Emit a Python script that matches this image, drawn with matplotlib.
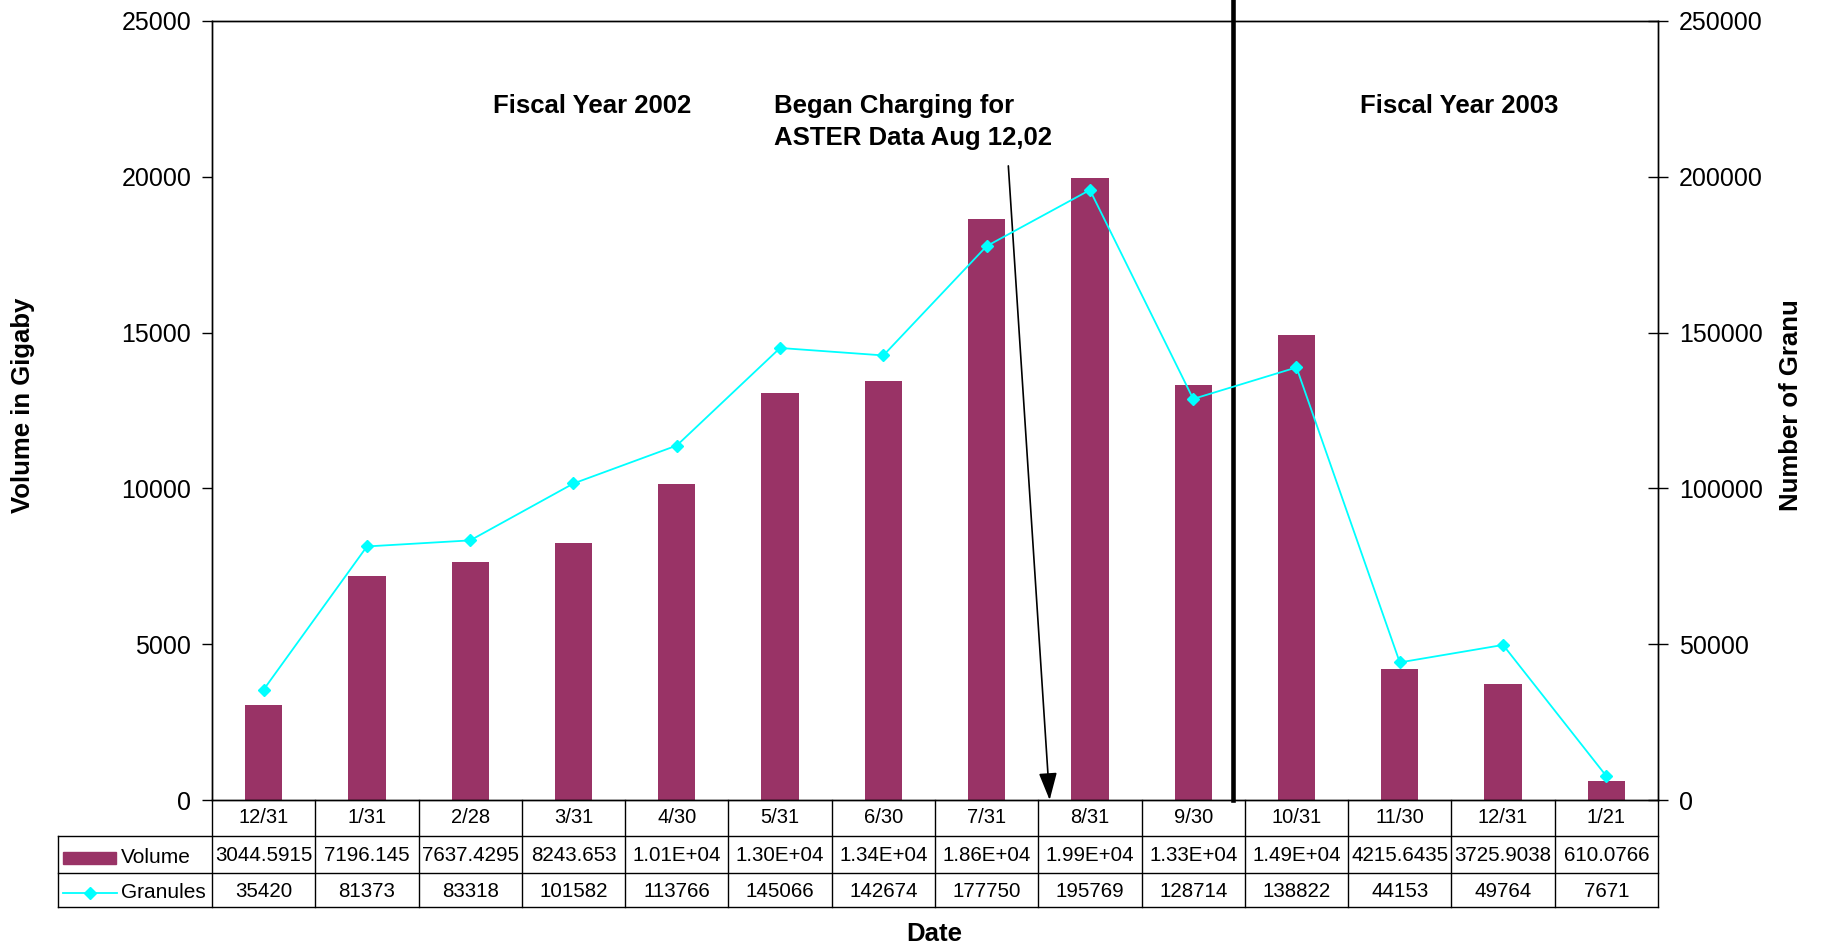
import numpy as np
import matplotlib
matplotlib.use('Agg')
import matplotlib.pyplot as plt
import matplotlib.transforms as mtransforms
from matplotlib.lines import Line2D
from matplotlib.patches import Rectangle

plt.rcParams['font.family'] = ['Liberation Sans', 'DejaVu Sans']

# ---------------- data ----------------
categories = ['12/31', '1/31', '2/28', '3/31', '4/30', '5/31', '6/30',
              '7/31', '8/31', '9/30', '10/31', '11/30', '12/31', '1/21']
volume = [3044.5915, 7196.145, 7637.4295, 8243.653, 10149, 13060, 13433,
          18657, 19963, 13321, 14925, 4215.6435, 3725.9038, 610.0766]
granules = [35420, 81373, 83318, 101582, 113766, 145066, 142674,
            177750, 195769, 128714, 138822, 44153, 49764, 7671]
volume_labels = ['3044.5915', '7196.145', '7637.4295', '8243.653', '1.01E+04',
                 '1.30E+04', '1.34E+04', '1.86E+04', '1.99E+04', '1.33E+04',
                 '1.49E+04', '4215.6435', '3725.9038', '610.0766']

BAR_COLOR = '#993366'
LINE_COLOR = '#00FFFF'

W, H = 1824, 946
fig = plt.figure(figsize=(W / 100, H / 100), dpi=100)


def fx(px):
    return px / W


def fy(py):
    return 1 - py / H


L, R, T, B = 212, 1658, 21, 800
ax = fig.add_axes([fx(L), fy(B), (R - L) / W, (B - T) / H])
x = np.arange(len(categories))
ax.bar(x, volume, width=0.36, color=BAR_COLOR, zorder=2)
ax.set_xlim(-0.5, len(categories) - 0.5)
ax.set_ylim(0, 25000)
ax.set_yticks(np.arange(0, 25001, 5000))
ax.set_xticks([])
ax.tick_params(axis='y', direction='out', length=7, width=1, labelsize=18, pad=8)
for s in ax.spines.values():
    s.set_linewidth(1.0)

ax2 = ax.twinx()
ax2.plot(x, granules, color=LINE_COLOR, lw=1.3, marker='D', ms=6.5, zorder=3)
ax2.set_ylim(0, 250000)
ax2.set_yticks(np.arange(0, 250001, 50000))
ax2.tick_params(axis='y', direction='inout', length=14, width=1, labelsize=18, pad=8)
for s in ax2.spines.values():
    s.set_linewidth(1.0)

# fiscal year divider
ax.plot([9.39, 9.39], [0, 1.028], color='black', lw=3.3,
        transform=mtransforms.blended_transform_factory(ax.transData, ax.transAxes),
        clip_on=False, zorder=5)

# annotations
fig.text(fx(592), fy(106), 'Fiscal Year 2002', fontsize=18.5, fontweight='bold',
         ha='center', va='center')
fig.text(fx(1459), fy(106), 'Fiscal Year 2003', fontsize=18.5, fontweight='bold',
         ha='center', va='center')
fig.text(fx(774), fy(106), 'Began Charging for', fontsize=18.5, fontweight='bold',
         ha='left', va='center')
fig.text(fx(774), fy(138), 'ASTER Data Aug 12,02', fontsize=18.5, fontweight='bold',
         ha='left', va='center')
ax.annotate('', xy=(7.61, 0), xytext=(7.21, 20350),
            arrowprops=dict(arrowstyle='-|>,head_length=0.6,head_width=0.2',
                            mutation_scale=28, color='black', lw=1.2,
                            shrinkA=0, shrinkB=0),
            annotation_clip=False, zorder=6)

# axis titles
fig.text(fx(23), fy(405), 'Volume in Gigaby', rotation=90, fontsize=18.5,
         fontweight='bold', ha='center', va='center')
fig.text(fx(1791), fy(405), 'Number of Granu', rotation=90, fontsize=18.5,
         fontweight='bold', ha='center', va='center')
fig.text(fx(934), fy(934), 'Date', fontsize=18.5, fontweight='bold',
         ha='center', va='center')

# data table
bt = mtransforms.blended_transform_factory(ax.transData, fig.transFigure)
TF = fig.transFigure
for i, c in enumerate(categories):
    fig.text(i, fy(817), c, transform=bt, fontsize=14.5, ha='center', va='center')
    fig.text(i, fy(855), volume_labels[i], transform=bt, fontsize=14.8,
             ha='center', va='center')
    fig.text(i, fy(891), str(granules[i]), transform=bt, fontsize=14.8,
             ha='center', va='center')
for k in range(len(categories) + 1):
    fig.add_artist(Line2D([k - 0.5, k - 0.5], [fy(B), fy(907)], transform=bt,
                          color='black', lw=1))
for yy in (836, 873, 907):
    fig.add_artist(Line2D([fx(58), fx(R)], [fy(yy), fy(yy)], transform=TF,
                          color='black', lw=1))
fig.add_artist(Line2D([fx(58), fx(58)], [fy(836), fy(907)], transform=TF,
                      color='black', lw=1))

# legend keys in table
fig.add_artist(Rectangle((fx(63), fy(864)), fx(116) - fx(63), fy(852) - fy(864),
                         transform=TF, color=BAR_COLOR))
fig.text(fx(121), fy(857), 'Volume', fontsize=15, ha='left', va='center')
fig.add_artist(Line2D([fx(63), fx(117)], [fy(893), fy(893)], transform=TF,
                      color=LINE_COLOR, lw=1.3))
fig.add_artist(Line2D([fx(90)], [fy(893)], transform=TF, color=LINE_COLOR,
                      marker='D', ms=6.5, lw=0))
fig.text(fx(121), fy(892), 'Granules', fontsize=15, ha='left', va='center')

fig.savefig('out.png', dpi=100)
